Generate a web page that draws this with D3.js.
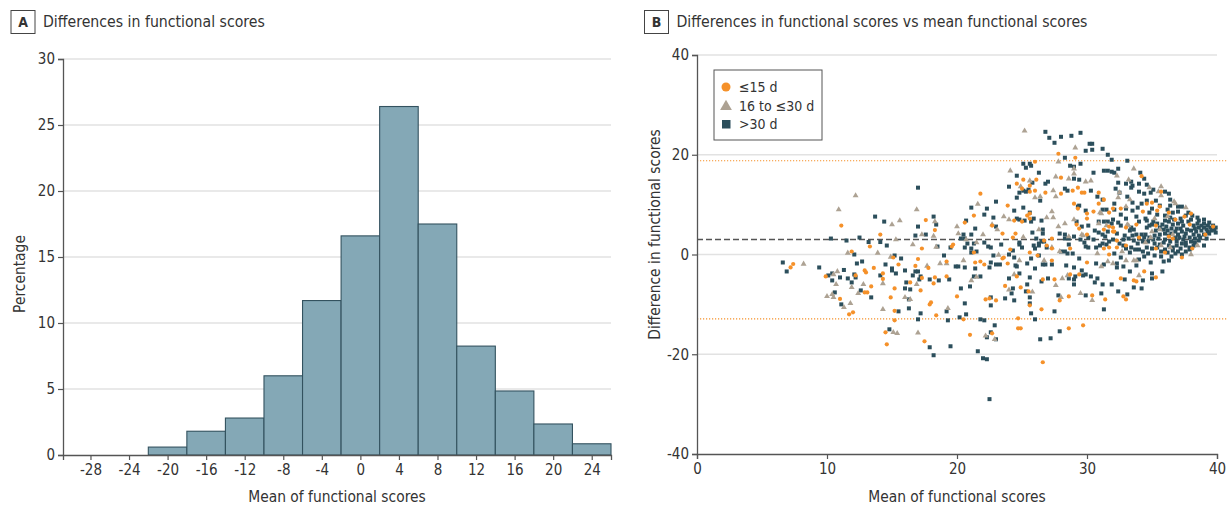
<!DOCTYPE html>
<html>
<head>
<meta charset="utf-8">
<script src="https://cdn.jsdelivr.net/npm/d3@7"></script>
<style>
  body { margin: 0; background: #fff; }
  svg text { font-family: "DejaVu Sans Condensed", "Liberation Sans Narrow", sans-serif; fill: #333; }
</style>
</head>
<body>
<div id="chart"></div>
<script>
// panel A: histogram of differences
var binStarts = [-22, -18, -14, -10, -6, -2, 2, 6, 10, 14, 18, 22];
var binWidth = 4;
var binPct = [0.6, 1.8, 2.8, 6.0, 11.7, 16.6, 26.4, 17.5, 8.25, 4.85, 2.35, 0.85];
var histXTicks = [-28, -24, -20, -16, -12, -8, -4, 0, 4, 8, 12, 16, 20, 24];
var histYTicks = [0, 5, 10, 15, 20, 25, 30];

// panel B: Bland-Altman style scatter
var meanDiff = 3;
var limitUpper = 18.8;
var limitLower = -12.9;
var scatterXTicks = [0, 10, 20, 30, 40];
var scatterYTicks = [-40, -20, 0, 20, 40];
var groups = ["≤15 d", "16 to ≤30 d", ">30 d"];

var stayShort = [
  [7.2,-2.6],[7.4,-1.9],[9.9,-4.4],[11.1,5.8],[11.0,-8.9],[11.7,-12.0],[12.0,-11.6],[11.9,0.6],[12.2,-4.2],[12.9,-3.2],
  [13.0,-3.6],[12.9,-7.6],[13.1,-7.6],[13.3,1.6],[13.4,-6.4],[13.6,-2.7],[14.1,4.0],[14.3,-3.8],[14.3,-4.9],[14.5,-15.6],
  [14.6,-18.0],[14.9,-8.6],[15.1,-0.6],[15.2,-6.8],[15.2,-13.2],[15.2,-11.3],[15.5,-2.0],[16.4,-5.6],[16.8,-2.3],[17.0,-0.9],
  [17.2,-7.2],[17.3,1.2],[17.5,-17.4],[17.6,6.9],[17.3,-4.7],[17.8,-2.7],[17.9,-10.0],
  [21.8,12.2],[24.6,14.2],[23.9,9.8],[21.3,7.8],[20.6,6.4],[18.3,4.9],[24.4,6.8],[22.7,5.8],[23.5,4.2],[24.5,4.2],
  [24.3,3.4],[19.7,2.0],[19.6,1.6],[24.1,1.0],[21.3,0.4],[23.6,-0.6],[23.5,-0.8],[23.9,-1.8],[19.2,-1.4],[21.4,-1.6],
  [21.8,-1.4],[22.1,-2.0],[19.2,-4.4],[18.3,-4.6],[18.2,-5.8],[24.6,-4.4],[23.7,-6.3],[20.0,-8.4],[22.2,-9.0],[23.0,-9.2],
  [22.5,-8.8],[18.0,-9.6],[18.4,-12.2],[20.5,-13.0],[24.7,-12.8],[24.7,-14.8],[21.0,-16.1],[22.7,-15.8],
  [27.8,20.2],[29.1,19.4],[26.0,18.6],[25.1,15.0],[26.1,15.0],[25.6,13.8],[25.0,13.2],[26.0,12.8],[25.6,12.6],[26.8,12.4],
  [28.0,15.4],[29.3,13.4],[28.9,12.8],[29.6,12.4],[29.8,12.4],[30.9,12.4],[28.0,12.2],[31.3,11.0],[29.0,10.2],[29.3,9.2],
  [30.0,8.2],[30.0,7.2],[30.5,8.6],[32.0,9.2],[31.7,8.4],[25.6,8.2],[25.4,7.8],[25.0,6.6],[25.6,7.2],[29.2,6.0],
  [29.4,5.2],[30.0,4.0],[31.3,5.0],[31.7,5.6],[32.0,4.6],[27.3,3.2],[26.7,2.8],[26.9,1.8],[27.3,1.2],[28.7,1.2],
  [31.3,1.2],[31.7,1.4],[25.6,0.4],[26.2,-0.2],[31.7,0.0],[27.3,-1.2],[30.0,-1.6],[29.4,-4.0],[28.7,-4.0],[26.6,-5.0],
  [27.5,-5.0],[24.9,-6.6],[25.5,-7.4],[28.6,-8.4],[30.4,-8.2],[31.4,-9.0],[27.9,-9.2],[25.6,-10.2],[26.5,-11.0],[24.9,-14.8],
  [28.6,-14.8],[29.7,-14.2],[26.6,-21.6],[30.9,10.2],
  [34.2,15.7],[32.6,9.2],[34.3,8.6],[34.6,10.2],[35.0,10.4],[35.4,8.8],[35.6,9.6],[35.7,12.6],[36.3,8.4],[36.8,7.0],
  [37.5,7.6],[38.0,8.2],[37.9,6.0],[33.8,6.0],[33.0,5.4],[32.0,5.4],[32.1,4.6],[35.3,5.8],[36.3,3.6],[36.6,3.2],
  [39.1,4.0],[39.7,5.6],[34.0,3.4],[32.3,2.8],[33.0,1.8],[32.3,1.4],[35.3,1.2],[36.0,0.4],[37.3,-0.6],[38.1,1.2],
  [34.4,-3.4],[35.3,-4.6],[33.6,-5.2],[33.8,-5.4],[32.6,-4.8],[32.8,-8.4],[33.0,-9.0]
];

var stayMid = [
  [8.2,-1.9],[10.0,-8.4],[10.5,-8.6],[10.4,-8.0],[10.5,-4.0],[10.7,-6.0],[10.8,-3.4],[10.9,9.0],[11.3,-10.6],[11.6,0.3],
  [11.8,-9.8],[11.9,-6.6],[12.2,11.8],[12.4,-7.8],[12.8,-6.0],[13.9,0.3],[14.3,-11.0],[14.3,-5.8],[15.0,6.0],[14.9,-0.5],
  [15.1,-15.6],[15.3,3.0],[15.4,-15.8],[15.6,6.8],[16.0,-8.6],[16.4,-9.0],[16.6,2.0],[16.9,-6.0],[16.9,9.0],[17.0,-15.7],
  [17.3,4.0],[17.7,-2.3],
  [24.1,16.8],[21.6,10.1],[20.0,5.6],[18.3,6.6],[23.6,7.6],[24.0,7.0],[22.7,6.0],[23.1,5.0],[20.1,4.2],[22.0,4.0],
  [18.2,3.7],[20.7,3.0],[18.4,1.5],[21.5,2.4],[23.2,-0.1],[20.5,-1.2],[18.7,-1.8],[19.2,-1.8],[21.5,-4.5],[21.1,-5.2],
  [24.0,-7.1],[24.4,-4.0],[22.2,-16.3],[22.9,-17.0],[19.3,-10.8],[24.8,-1.2],
  [25.2,24.8],[29.1,21.4],[27.8,18.6],[29.0,17.2],[29.0,16.2],[28.6,15.2],[29.9,14.6],[30.3,14.8],[24.9,13.6],[25.6,14.8],
  [27.6,15.6],[27.4,12.8],[27.6,11.6],[26.0,11.4],[26.4,11.6],[27.3,8.6],[27.4,7.4],[26.9,7.4],[28.3,6.2],[27.8,5.6],
  [29.0,7.0],[31.0,8.4],[31.1,8.2],[30.9,6.2],[31.5,5.8],[26.3,5.0],[29.6,4.0],[29.7,3.8],[28.6,3.6],[25.1,3.5],
  [27.3,1.4],[27.9,0.6],[30.8,0.2],[26.7,-1.2],[31.1,-2.4],[31.6,-1.4],[32.0,-1.8],[28.5,-4.2],[28.1,-4.8],[27.6,-6.2],
  [25.8,-7.5],[28.0,-8.6],[29.5,-7.8],[30.4,-9.2],
  [33.6,17.2],[32.3,15.8],[33.2,15.0],[34.8,13.4],[35.7,13.6],[35.5,12.6],[35.7,11.8],[32.5,12.4],[32.4,11.4],[33.3,11.0],
  [36.7,10.6],[36.8,10.2],[37.6,9.4],[33.0,9.6],[35.2,7.2],[36.2,7.6],[33.1,6.0],[35.0,4.6],[35.6,5.0],[36.6,4.0],
  [34.9,3.4],[34.5,2.4],[35.7,1.8],[36.4,1.4],[38.5,1.8],[38.0,0.0],[32.7,0.6],[33.0,-1.2],[33.6,-1.2],[33.8,-1.2],
  [34.0,-4.2],[33.2,5.8]
];

var stayLong = [
  [6.6,-1.6],[6.9,-3.4],[9.4,-2.6],[10.3,3.2],[10.1,-4.2],[10.4,-3.8],[10.4,-5.2],[11.0,-4.6],[10.6,-7.6],[11.3,-3.1],
  [11.1,-10.0],[11.5,2.8],[11.6,-4.8],[11.9,-5.6],[12.1,0.0],[12.1,-4.0],[12.2,-4.6],[12.3,-1.8],[12.5,3.4],[12.6,-7.2],
  [12.7,-1.4],[13.2,2.5],[13.4,-8.6],[13.7,7.6],[14.1,-4.2],[14.1,2.5],[14.4,6.6],[14.5,-2.0],[14.6,1.8],[14.8,-15.0],
  [15.0,-2.8],[15.0,-3.2],[15.2,-0.2],[15.3,-3.8],[15.5,-11.4],[15.7,-0.8],[16.0,-3.2],[16.0,-6.8],[16.1,-5.6],[16.3,-10.8],
  [16.3,-9.0],[16.4,-7.0],[16.6,-4.2],[16.8,3.8],[16.8,-3.4],[17.0,13.4],[17.0,-13.0],[17.0,5.6],[17.0,-3.4],[17.1,-5.0],
  [17.2,-4.4],[17.2,-11.8],[17.6,4.0],[17.9,-18.6],[17.9,-5.0],
  [24.6,15.8],[24.0,13.6],[24.8,12.4],[24.6,11.4],[23.0,10.6],[21.1,9.4],[22.3,9.2],[24.4,8.8],[22.1,8.0],[22.8,7.4],
  [18.2,7.6],[20.7,6.8],[24.8,7.0],[18.4,6.0],[23.0,5.6],[21.4,5.2],[20.5,4.0],[21.1,4.0],[20.3,3.2],[20.6,3.2],
  [20.8,2.2],[21.3,2.2],[22.1,2.4],[23.4,2.0],[20.6,1.4],[21.1,1.2],[22.4,1.6],[22.6,1.4],[19.5,1.4],[18.5,1.6],
  [24.3,0.8],[24.8,2.0],[24.0,0.0],[21.5,0.6],[21.1,0.4],[19.0,-0.2],[22.8,-0.2],[24.4,-0.6],[19.9,-2.4],[20.1,-2.4],
  [20.6,-2.6],[21.4,-2.8],[22.5,-2.6],[23.0,-2.0],[23.3,-2.0],[22.6,-1.6],[24.5,-2.2],[24.8,-3.8],[21.3,-4.4],[21.8,-4.4],
  [24.0,-4.8],[18.6,-5.2],[19.4,-5.0],[20.3,-6.8],[21.0,-6.4],[24.3,-6.8],[24.2,-7.8],[23.7,-8.8],[24.4,-9.2],[22.6,-8.6],
  [20.6,-9.8],[22.6,-10.2],[19.2,-11.4],[20.7,-12.0],[20.2,-12.6],[19.3,-13.2],[21.8,-13.0],[22.1,-13.2],[22.9,-14.2],[22.6,-15.6],
  [23.0,-17.0],[22.3,-16.6],[19.5,-18.4],[21.6,-19.4],[18.2,-20.2],[22.0,-20.8],[22.3,-21.0],[22.5,-29.0],
  [26.8,24.6],[27.1,23.4],[27.5,22.4],[28.0,23.6],[28.8,23.8],[29.5,24.4],[30.2,22.2],[30.4,22.2],[29.9,20.8],[30.4,21.0],
  [31.2,21.2],[31.6,20.0],[31.9,19.0],[28.3,19.4],[28.7,17.8],[29.0,17.6],[29.5,18.2],[31.3,16.8],[31.6,16.8],[31.9,16.6],
  [30.5,16.4],[25.1,18.2],[25.7,17.8],[25.6,18.2],[25.3,17.4],[26.3,16.4],[25.8,14.4],[27.0,14.6],[26.8,14.2],[29.0,15.2],
  [29.4,15.0],[28.3,13.2],[28.5,12.8],[25.5,13.0],[25.3,12.6],[25.1,12.8],[26.4,10.8],[30.3,12.8],[30.8,11.6],[31.2,11.0],
  [32.1,10.2],[29.4,9.8],[29.3,9.6],[29.9,8.8],[31.2,9.0],[31.5,9.0],[32.1,9.0],[25.6,8.4],[25.9,7.2],[25.1,9.4],
  [24.6,7.2],[25.2,6.8],[25.7,6.6],[26.5,6.8],[29.2,6.6],[29.6,5.6],[30.1,5.8],[30.9,6.6],[31.3,6.6],[31.6,6.6],
  [32.0,7.0],[31.9,6.2],[30.6,4.8],[30.9,4.4],[31.2,4.0],[31.4,3.6],[31.6,4.6],[26.6,5.0],[26.6,4.2],[25.8,4.4],
  [27.9,4.2],[28.3,4.0],[28.6,3.2],[28.6,2.0],[29.0,3.6],[28.3,3.2],[30.1,3.4],[30.5,3.0],[30.7,1.4],[31.0,1.8],
  [31.2,2.2],[31.5,2.0],[31.7,2.6],[29.5,3.0],[29.8,2.4],[29.9,1.6],[30.1,1.4],[24.8,2.4],[25.0,1.4],[25.9,1.8],
  [26.0,1.2],[26.3,1.8],[26.3,2.2],[26.7,2.6],[26.9,1.4],[26.5,2.6],[26.1,3.2],[28.0,0.6],[28.3,0.6],[28.5,0.2],
  [28.9,0.2],[26.3,-0.2],[25.7,-0.8],[25.4,-1.8],[24.6,-2.4],[26.0,-2.8],[26.6,-2.0],[26.8,-2.0],[27.3,-2.0],[28.4,-2.2],
  [29.0,-2.6],[29.4,-0.8],[29.9,-4.0],[29.6,-3.2],[30.7,-1.8],[31.3,-2.0],[30.3,-4.4],[30.6,-5.6],[30.8,-4.8],[31.9,-6.0],
  [31.2,-6.0],[29.7,-4.2],[29.0,-5.0],[29.0,-6.0],[29.1,-4.4],[28.6,-4.8],[25.6,-4.6],[27.0,-4.8],[26.5,-5.4],[25.4,-6.0],
  [25.3,-7.4],[25.6,-8.6],[27.8,-8.2],[29.9,-8.2],[31.1,-7.8],[31.3,-11.0],[25.6,-9.8],[25.7,-11.8],[27.5,-11.4],[26.0,-13.0],
  [27.9,-15.4],[26.4,-17.0],[27.2,-16.8],
  [33.1,18.8],[32.1,16.4],[32.4,17.2],[34.1,16.4],[34.4,15.2],[34.0,14.2],[33.4,14.6],[33.0,14.2],[32.4,14.4],[33.4,13.4],
  [32.2,13.2],[32.5,12.4],[34.0,12.6],[34.6,14.0],[35.1,13.0],[34.4,12.2],[34.9,12.4],[36.0,12.6],[36.3,12.2],[36.4,11.0],
  [33.1,11.6],[33.5,10.4],[34.6,10.8],[35.3,10.8],[34.2,10.2],[35.6,9.8],[36.2,9.0],[37.0,9.6],[37.3,9.6],[36.6,8.4],
  [37.0,8.6],[37.6,7.8],[38.1,7.8],[38.5,7.4],[39.0,7.0],[39.0,6.2],[33.5,8.8],[33.9,9.4],[34.5,7.2],[34.6,6.8],
  [34.6,5.4],[35.1,6.6],[36.0,6.8],[36.4,7.4],[36.3,6.6],[36.6,6.0],[37.0,6.2],[37.3,6.6],[37.4,5.8],[37.8,6.6],
  [38.0,7.0],[38.2,5.8],[38.5,6.2],[38.6,5.4],[39.0,5.4],[39.3,5.8],[39.5,5.4],[39.8,5.0],[39.7,5.8],[39.3,4.6],
  [39.0,4.0],[38.6,3.8],[38.2,4.0],[37.9,3.4],[37.6,4.2],[37.3,4.6],[36.8,4.6],[36.5,5.2],[36.2,4.8],[35.9,5.0],
  [35.6,5.4],[35.3,4.8],[33.4,5.4],[33.6,5.0],[33.3,4.8],[32.6,5.8],[32.3,4.2],[32.9,3.8],[32.8,3.0],[33.2,3.2],
  [33.5,3.8],[33.8,4.0],[34.2,4.0],[34.5,4.0],[34.0,3.2],[34.3,2.6],[34.7,2.6],[35.1,3.0],[35.5,3.2],[36.0,3.0],
  [36.3,3.8],[36.8,3.4],[37.1,3.4],[37.4,3.0],[37.6,2.4],[38.0,2.6],[38.3,3.2],[38.6,2.8],[39.0,1.8],[38.2,1.8],
  [37.9,1.4],[37.6,1.8],[37.2,1.2],[36.9,1.8],[36.6,1.4],[36.3,1.8],[36.0,1.0],[35.7,0.6],[35.4,1.4],[35.0,1.2],
  [34.6,1.4],[34.3,0.6],[34.0,1.0],[33.7,1.0],[33.4,1.4],[33.0,1.2],[32.8,1.8],[32.5,2.2],[32.0,3.0],[32.1,0.2],
  [32.6,-0.6],[32.3,-1.8],[32.3,-2.6],[32.8,-2.4],[33.8,-2.2],[34.0,-1.0],[34.9,-1.6],[35.2,-0.2],[35.7,-0.4],[35.9,-1.4],
  [36.3,-1.2],[36.8,0.2],[37.6,0.6],[37.9,1.0],[33.3,-3.4],[35.0,-3.8],[35.0,-4.8],[35.8,-3.4],[34.3,-5.2],[33.6,-6.6],
  [34.2,-6.8],[32.4,-7.4],[33.1,-8.0],[32.9,-5.0],[33.0,9.2],[33.5,13.8],
  [34.8,5.8],[35.0,6.0],[35.4,6.2],[35.8,6.0],[36.1,5.6],[36.9,5.2],[37.2,5.2],[37.7,5.0],[38.0,4.8],[38.4,4.6],
  [38.8,4.8],[39.2,5.0],[38.8,5.8],[38.3,5.2],[37.5,3.6],[37.0,4.0],[36.5,4.2],[36.0,4.2],[35.6,4.0],[35.2,3.8],
  [34.8,3.4],[35.9,2.4],[36.4,2.6],[36.9,2.6],[37.3,2.2],[38.3,2.4],[38.7,3.4],[39.2,3.2],[39.4,4.2],[39.6,4.8],
  [39.9,4.4],[39.9,5.4],[36.2,0.4],[36.6,0.8],[37.0,0.6],[37.3,0.0],[36.5,-0.4],[34.7,0.2],[34.4,-0.4],[33.3,0.4],
  [33.9,2.2],[33.6,2.8],[34.4,3.4],[35.2,2.2],[35.6,2.0],[36.7,7.0],[37.2,7.2],[36.0,7.8],[35.4,8.0],[34.8,8.4],
  [35.0,9.2],[36.4,9.8],[37.8,8.4],[38.6,6.8],[39.4,6.4],[34.0,6.6],[33.8,7.6],[33.0,7.2],[32.6,8.0],[32.4,6.4]
];

var colShort = "#f5912a", colMid = "#ada293", colLong = "#2c4f5c";
var gridCol = "#e2e2e2", axisCol = "#555";

var W = 1227, H = 506;
var svg = d3.select("#chart").append("svg")
    .attr("width", W)
    .attr("height", H);

function styleAxis(g) {
  g.select(".domain").attr("stroke", axisCol).attr("stroke-width", 1.3);
  g.selectAll(".tick line").attr("stroke", axisCol).attr("stroke-width", 1.2);
  g.selectAll(".tick text")
    .attr("font-size", "15px")
    .attr("font-family", null)
    .attr("fill", "#333");
}

function panelTitle(x, letter, label, boxW) {
  svg.append("rect")
    .attr("x", x).attr("y", 10.5)
    .attr("width", boxW).attr("height", 23)
    .attr("fill", "none").attr("stroke", "#444").attr("stroke-width", 1);
  svg.append("text")
    .attr("x", x + boxW / 2).attr("y", 27)
    .attr("text-anchor", "middle")
    .attr("font-size", "14px").attr("font-weight", "bold")
    .text(letter);
  svg.append("text")
    .attr("x", x + boxW + 8).attr("y", 27)
    .attr("font-size", "15.7px")
    .text(label);
}

// ---------- panel A ----------
var xA = d3.scaleLinear().domain([-30.85, 26]).range([63, 611]);
var yA = d3.scaleLinear().domain([0, 30]).range([455, 59]);

panelTitle(11, "A", "Differences in functional scores", 24);

svg.append("g").selectAll("line")
    .data(histYTicks.slice(1))
    .enter().append("line")
    .attr("x1", xA.range()[0]).attr("x2", xA.range()[1])
    .attr("y1", function(d) { return yA(d); })
    .attr("y2", function(d) { return yA(d); })
    .attr("stroke", gridCol).attr("stroke-width", 1.5);

svg.append("g").selectAll("rect")
    .data(binStarts)
    .enter().append("rect")
    .attr("x", function(d) { return xA(d); })
    .attr("y", function(d, i) { return yA(binPct[i]); })
    .attr("width", function(d) { return xA(d + binWidth) - xA(d); })
    .attr("height", function(d, i) { return yA(0) - yA(binPct[i]); })
    .attr("fill", "#84a8b6")
    .attr("stroke", "#33525f")
    .attr("stroke-width", 1.1);

svg.append("g")
    .attr("transform", "translate(0," + yA(0) + ")")
    .call(d3.axisBottom(xA).tickValues(histXTicks).tickFormat(function(d) { return String(d); }).tickSizeOuter(0).tickSize(5).tickPadding(4))
    .call(styleAxis);

svg.append("g")
    .attr("transform", "translate(" + xA.range()[0] + ",0)")
    .call(d3.axisLeft(yA).tickValues(histYTicks).tickSizeOuter(0).tickSize(5).tickPadding(3))
    .call(styleAxis);

svg.append("text")
    .attr("x", 337).attr("y", 502)
    .attr("text-anchor", "middle").attr("font-size", "15.4px")
    .text("Mean of functional scores");

svg.append("text")
    .attr("transform", "translate(25,274) rotate(-90)")
    .attr("text-anchor", "middle").attr("font-size", "15.4px")
    .text("Percentage");

// ---------- panel B ----------
var xB = d3.scaleLinear().domain([0, 40]).range([697, 1217]);
var yB = d3.scaleLinear().domain([-40, 40]).range([454, 55]);

panelTitle(644.5, "B", "Differences in functional scores vs mean functional scores", 24);

svg.append("g").selectAll("line")
    .data(scatterYTicks.slice(1))
    .enter().append("line")
    .attr("x1", xB.range()[0]).attr("x2", xB.range()[1])
    .attr("y1", function(d) { return yB(d); })
    .attr("y2", function(d) { return yB(d); })
    .attr("stroke", gridCol).attr("stroke-width", 1.5);

[limitUpper, limitLower].forEach(function(v) {
  svg.append("line")
    .attr("x1", xB.range()[0]).attr("x2", W)
    .attr("y1", yB(v)).attr("y2", yB(v))
    .attr("stroke", colShort).attr("stroke-width", 1.2)
    .attr("stroke-dasharray", "1.2,1.8");
});

svg.append("line")
    .attr("x1", xB.range()[0]).attr("x2", W)
    .attr("y1", yB(meanDiff)).attr("y2", yB(meanDiff))
    .attr("stroke", "#555").attr("stroke-width", 1.6)
    .attr("stroke-dasharray", "6,3");

var dots = svg.append("g");

dots.selectAll("rect.long")
    .data(stayLong)
    .enter().append("rect")
    .attr("class", "long")
    .attr("x", function(d) { return xB(d[0]) - 2; })
    .attr("y", function(d) { return yB(d[1]) - 2; })
    .attr("width", 4).attr("height", 4)
    .attr("fill", colLong);

var tri = d3.symbol().type(d3.symbolTriangle).size(15);
dots.selectAll("path.mid")
    .data(stayMid)
    .enter().append("path")
    .attr("class", "mid")
    .attr("d", tri)
    .attr("transform", function(d) { return "translate(" + xB(d[0]) + "," + yB(d[1]) + ")"; })
    .attr("fill", colMid);

dots.selectAll("circle.short")
    .data(stayShort)
    .enter().append("circle")
    .attr("class", "short")
    .attr("cx", function(d) { return xB(d[0]); })
    .attr("cy", function(d) { return yB(d[1]); })
    .attr("r", 2.1)
    .attr("fill", colShort);

svg.append("g")
    .attr("transform", "translate(0," + yB(-40) + ")")
    .call(d3.axisBottom(xB).tickValues(scatterXTicks).tickSizeOuter(0).tickSize(5).tickPadding(4))
    .call(styleAxis);

svg.append("g")
    .attr("transform", "translate(" + xB.range()[0] + ",0)")
    .call(d3.axisLeft(yB).tickValues(scatterYTicks).tickFormat(function(d) { return String(d); }).tickSizeOuter(0).tickSize(5).tickPadding(3))
    .call(styleAxis);

svg.append("text")
    .attr("x", 957).attr("y", 502)
    .attr("text-anchor", "middle").attr("font-size", "15.4px")
    .text("Mean of functional scores");

svg.append("text")
    .attr("transform", "translate(660,234.5) rotate(-90)")
    .attr("text-anchor", "middle").attr("font-size", "15.4px")
    .text("Difference in functional scores");

// legend
var leg = svg.append("g").attr("transform", "translate(714,70)");
leg.append("rect")
    .attr("width", 108).attr("height", 70)
    .attr("fill", "#fff").attr("stroke", "#555").attr("stroke-width", 1);

var legY = [17, 36, 54];
leg.append("circle").attr("cx", 12).attr("cy", legY[0]).attr("r", 4.5).attr("fill", colShort);
leg.append("path").attr("d", d3.symbol().type(d3.symbolTriangle).size(60)).attr("transform", "translate(12," + (legY[1] + 0.5) + ")").attr("fill", colMid);
leg.append("rect").attr("x", 8).attr("y", legY[2] - 4).attr("width", 8.5).attr("height", 8.5).attr("fill", colLong);

leg.selectAll("text.lab")
    .data(groups)
    .enter().append("text")
    .attr("class", "lab")
    .attr("x", 25)
    .attr("y", function(d, i) { return legY[i] + 5; })
    .attr("font-size", "14px")
    .text(function(d) { return d; });
</script>
</body>
</html>
